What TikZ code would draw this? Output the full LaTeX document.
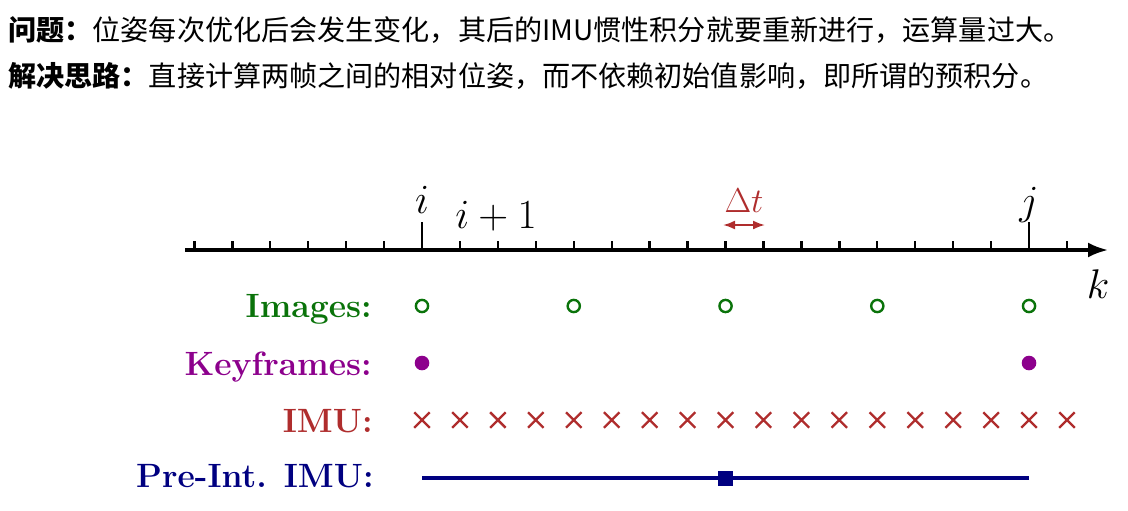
\documentclass[tikz,border=0pt]{standalone}
\usepackage{fontspec}
\usetikzlibrary{arrows.meta,shapes.misc}
\newfontfamily\cjk{Noto Sans CJK SC}
\definecolor{imggreen}{RGB}{10,115,10}
\definecolor{kfpurple}{RGB}{140,0,140}
\definecolor{imured}{RGB}{175,45,45}
\definecolor{preblue}{RGB}{0,0,128}
\begin{document}
\begin{tikzpicture}[x=0.5pt,y=-0.5pt,
  cjktext/.style={anchor=west, inner sep=0pt, font=\cjk\fontsize{14.05}{16}\selectfont},
  rowlab/.style={anchor=base east, inner sep=0pt, font=\fontsize{16.85}{20}\selectfont\bfseries},
  mlab/.style={inner sep=0pt, font=\huge},
  tickline/.style={line width=1.2pt},
  imgmark/.style={circle, draw=imggreen, line width=1.2pt, minimum size=6.1pt, inner sep=0pt},
  kfmark/.style={circle, fill=kfpurple, minimum size=7.3pt, inner sep=0pt},
  imumark/.style={cross out, draw=imured, line width=1.15pt, minimum size=6.6pt, inner sep=0pt},
  premark/.style={rectangle, fill=preblue, minimum size=7.5pt, inner sep=0pt},
  axisline/.style={line width=1.6pt, -{Latex[length=10pt,width=7.5pt]}},
  preline/.style={draw=preblue, line width=1.6pt}
]
\useasboundingbox (0,0) rectangle (1128,510);

% header text
\node[cjktext] (q) at (8,30) {\textbf{问题：}位姿每次优化后会发生变化，其后的IMU惯性积分就要重新进行，运算量过大。};
\node[cjktext] (s) at (8,76) {\textbf{解决思路：}直接计算两帧之间的相对位姿，而不依赖初始值影响，即所谓的预积分。};

% axis
\coordinate (a0) at (185,250);
\coordinate (a1) at (1108,250);
\draw[axisline] (a0) -- (a1);
\foreach \n in {-6,...,17} {
  \ifnum\n=0 \draw[tickline] (422+37.94*\n,250) -- ++(0,-28);
  \else\ifnum\n=16 \draw[tickline] (422+37.94*\n,250) -- ++(0,-28);
  \else \draw[tickline] (422+37.94*\n,250) -- ++(0,-9);
  \fi\fi
}

% axis labels
\node[mlab, anchor=base] (li) at (422,213) {$i$};
\node[mlab, anchor=base west] (lip) at (455,228) {$i+1$};
\node[mlab, anchor=base] (lj) at (1029,214) {$j$};
\node[mlab, anchor=base] (lk) at (1098,298) {$k$};
\node[inner sep=0pt, font=\fontsize{18}{20}\selectfont, anchor=base, text=imured] (ldt) at (744,212) {$\Delta t$};
\coordinate (dt1) at (723,225);
\coordinate (dt2) at (765,225);
\draw[imured, line width=1pt, {Latex[length=6pt,width=4.5pt]}-{Latex[length=6pt,width=4.5pt]}] (dt1) -- (dt2);

% row labels
\node[rowlab, text=imggreen] (rimg) at (372,317) {Images:};
\node[rowlab, text=kfpurple] (rkf) at (372,375) {Keyframes:};
\node[rowlab, text=imured] (rimu) at (373,432) {IMU:};
\node[rowlab, text=preblue] (rpre) at (374,487) {Pre-Int. IMU:};

% images
\foreach \n in {0,4,8,12,16} {
  \node[imgmark] (img\n) at (422+37.94*\n,306) {};
}
% keyframes
\node[kfmark] (kfi) at (422,363) {};
\node[kfmark] (kfj) at (1029,363) {};
% imu
\foreach \n in {0,...,17} {
  \node[imumark] (imu\n) at (422+37.94*\n,420) {};
}
% pre-integrated
\coordinate (pi) at (422,478);
\coordinate (pj) at (1029,478);
\draw[preline] (pi) -- (pj);
\node[premark] (pm) at (725.5,478) {};
\end{tikzpicture}
\end{document}
